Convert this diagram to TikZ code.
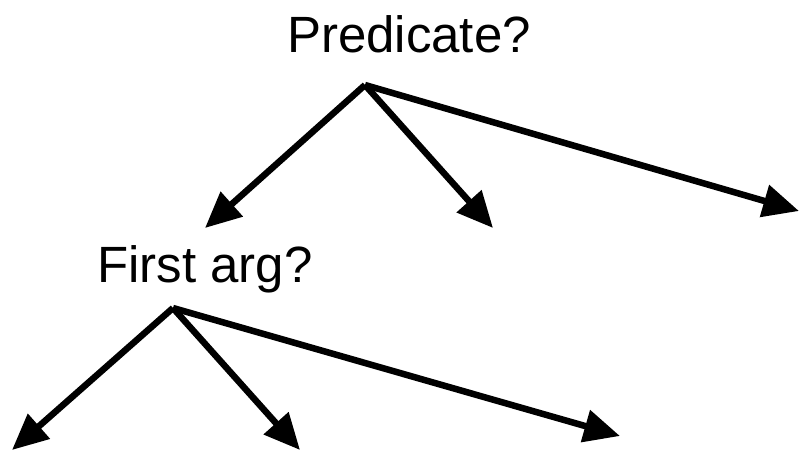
\documentclass[tikz,border=0pt]{standalone}
\usepackage{fontspec}
\setmainfont{Liberation Sans}
\usetikzlibrary{arrows.meta}
\begin{document}
\begin{tikzpicture}[x=1pt, y=-1pt]
			\tikzset{q/.style={anchor=base, inner sep=0pt, font=\fontsize{51}{60}\selectfont},
			f/.style={-{Triangle[length=36pt, width=32pt]}, line width=6.5pt}};
			\useasboundingbox (0,0) rectangle (800,451);

			\node[q] (p) at (409,52) {Predicate?};
			\node[q] (a) at (205,282) {First arg?};

			\coordinate (pr) at (365,85);
			\coordinate (ar) at (173,308);
			\coordinate (p1) at (205,228);
			\coordinate (p2) at (493,228);
			\coordinate (p3) at (799,211);
			\coordinate (a1) at (12,450);
			\coordinate (a2) at (300,450);
			\coordinate (a3) at (620,436);

			\draw[f] (pr) -- (p1);
			\draw[f] (pr) -- (p2);
			\draw[f] (pr) -- (p3);
			\draw[f] (ar) -- (a1);
			\draw[f] (ar) -- (a2);
			\draw[f] (ar) -- (a3);
		\end{tikzpicture}
\end{document}
